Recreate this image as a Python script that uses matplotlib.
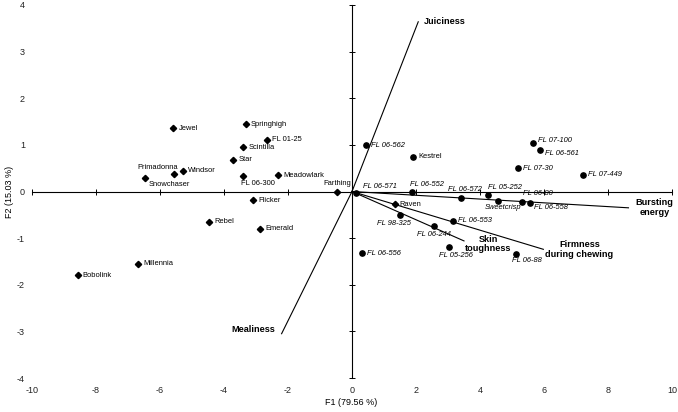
import matplotlib
matplotlib.use("Agg")
import matplotlib.pyplot as plt
from matplotlib.transforms import offset_copy

plt.rcParams['font.family'] = ['Liberation Sans', 'DejaVu Sans']
plt.rcParams['axes.unicode_minus'] = False

# ---- data ----
cultivars = ["Jewel", "Springhigh", "FL 01-25", "Scintilla", "Star", "Primadonna", "Windsor",
             "Snowchaser", "FL 06-300", "Meadowlark", "Farthing", "Flicker", "Rebel", "Emerald",
             "Millennia", "Bobolink", "Kestrel", "Raven"]
cult_f1 = [-5.58, -3.32, -2.65, -3.40, -3.71, -5.56, -5.27, -6.46, -3.42, -2.30, -0.47, -3.09,
           -4.47, -2.87, -6.68, -8.57, 1.92, 1.33]
cult_f2 = [1.36, 1.44, 1.11, 0.95, 0.68, 0.37, 0.45, 0.28, 0.34, 0.35, 0.00, -0.19, -0.65,
           -0.80, -1.55, -1.80, 0.74, -0.27]
cult_marker = ["D"] * 16 + ["o", "D"]

selections = ["FL 06-562", "FL 06-571", "FL 06-552", "FL 06-572", "FL 05-252", "Sweetcrisp",
              "FL 98-325", "FL 06-553", "FL 06-244", "FL 05-256", "FL 06-556", "FL 06-88",
              "FL 07-30", "FL 07-449", "FL 06-80", "FL 06-558", "FL 07-100", "FL 06-561"]
sel_f1 = [0.43, 0.11, 1.86, 3.40, 4.24, 4.57, 1.50, 3.17, 2.56, 3.04, 0.30, 5.14, 5.20, 7.23,
          5.30, 5.55, 5.66, 5.87]
sel_f2 = [0.99, -0.03, -0.01, -0.14, -0.07, -0.21, -0.50, -0.63, -0.75, -1.20, -1.32, -1.34,
          0.50, 0.36, -0.22, -0.24, 1.03, 0.89]

attributes = ["Juiciness", "Mealiness", "Bursting\nenergy", "Firmness\nduring chewing", "Skin\ntoughness"]
attr_f1 = [2.07, -2.20, 8.64, 5.98, 3.50]
attr_f2 = [3.64, -3.05, -0.35, -1.24, -1.06]

xticks = [-10, -8, -6, -4, -2, 0, 2, 4, 6, 8, 10]
yticks = [-4, -3, -2, -1, 0, 1, 2, 3, 4]
xlabel = "F1 (79.56 %)"
ylabel = "F2 (15.03 %)"

# ---- label placement (pixel offsets, ha) ----
PX = 0.72
default_off = (5, 0, "left", "center")
label_off = {
    "Primadonna": (4, 7, "right", "center"),
    "Snowchaser": (3, -6, "left", "center"),
    "FL 06-300": (-2, -8, "left", "center"),
    "Farthing": (0, 8, "center", "center"),
    "FL 06-571": (7, 6, "left", "center"),
    "FL 06-552": (-2, 7, "left", "center"),
    "FL 06-572": (4, 9, "center", "center"),
    "FL 05-252": (0, 7, "left", "center"),
    "Sweetcrisp": (5, -6, "center", "center"),
    "FL 98-325": (-6, -9, "center", "center"),
    "FL 06-244": (0, -8, "center", "center"),
    "FL 05-256": (7, -8, "center", "center"),
    "FL 06-88": (10, -7, "center", "center"),
    "FL 06-80": (1, 8, "left", "center"),
    "FL 06-558": (4, -5, "left", "center"),
    "FL 07-100": (5, 3, "left", "center"),
    "FL 06-561": (5, -3, "left", "center"),
}
attr_off = {
    "Juiciness": (6, 0, "left", "center"),
    "Mealiness": (-6, 4, "right", "center"),
    "Bursting\nenergy": (7, 0, "left", "center"),
    "Firmness\nduring chewing": (2, 0, "left", "center"),
    "Skin\ntoughness": (1, -3, "left", "center"),
}

W, H = 678, 412
fig = plt.figure(figsize=(W / 100, H / 100), dpi=100)
rect = [32 / W, (H - 378) / H, 640 / W, 373 / H]
ax = fig.add_axes(rect)
ax.set_xlim(-10, 10)
ax.set_ylim(-4, 4)
for s in ["top", "right"]:
    ax.spines[s].set_visible(False)
ax.spines["left"].set_position(("data", 0))
ax.spines["bottom"].set_position(("data", 0))
for s in ["left", "bottom"]:
    ax.spines[s].set_linewidth(0.8)
ax.set_xticks(xticks)
ax.set_yticks(yticks)
ax.tick_params(direction="inout", length=5, width=0.7, labelleft=False, labelbottom=False)
ax.patch.set_visible(False)

# tick labels on outer edges
ax2 = fig.add_axes(rect, frameon=False, zorder=-1)
ax2.set_xlim(-10, 10)
ax2.set_ylim(-4, 4)
ax2.set_xticks(xticks)
ax2.set_yticks(yticks)
ax2.tick_params(length=0, labelsize=6.5, colors="#222222", pad=5)
ax2.tick_params(axis="x", pad=6)
ax2.set_xlabel(xlabel, fontsize=6.5)
ax2.set_ylabel(ylabel, fontsize=6.5)
ax2.xaxis.set_label_coords((351 - 32) / 640, (378 - 398) / 373)
ax2.yaxis.set_label_coords(-0.028, 0.5)

# attribute vectors
for name, x, y in zip(attributes, attr_f1, attr_f2):
    ax.plot([0, x], [0, y], color="black", lw=0.8)
    dx, dy, ha, va = attr_off[name]
    tr = offset_copy(ax.transData, fig=fig, x=dx * PX, y=dy * PX, units="points")
    ax.text(x, y, name, transform=tr, ha=ha, va=va, fontsize=6.6, fontweight="bold",
            multialignment="center", linespacing=1.1)

# cultivars
for name, x, y, m in zip(cultivars, cult_f1, cult_f2, cult_marker):
    ax.plot(x, y, marker=m, ms=3.2 if m == "D" else 3.8, color="black", ls="none")
    dx, dy, ha, va = label_off.get(name, default_off)
    tr = offset_copy(ax.transData, fig=fig, x=dx * PX, y=dy * PX, units="points")
    ax.text(x, y, name, transform=tr, ha=ha, va=va, fontsize=5.4)

# selections
for name, x, y in zip(selections, sel_f1, sel_f2):
    ax.plot(x, y, marker="o", ms=3.8, color="black", ls="none")
    dx, dy, ha, va = label_off.get(name, default_off)
    tr = offset_copy(ax.transData, fig=fig, x=dx * PX, y=dy * PX, units="points")
    ax.text(x, y, name, transform=tr, ha=ha, va=va, fontsize=5.4, style="italic")

fig.savefig("out.png", dpi=100, facecolor="white")
